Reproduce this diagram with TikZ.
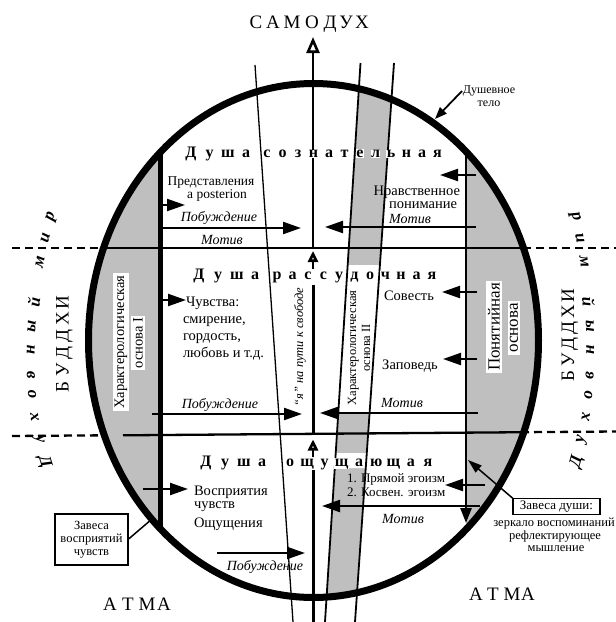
\documentclass[tikz,border=0pt]{standalone}
\usepackage{fontspec}
\setmainfont{Liberation Serif}
\usetikzlibrary{arrows.meta}
\definecolor{stip}{gray}{0.75}
\begin{document}
\begin{tikzpicture}[x=1pt,y=-1pt,
  every node/.style={inner sep=0pt, outer sep=0pt},
  tx/.style={font=\fontsize{14.5}{17}\selectfont},
  itx/.style={font=\itshape\fontsize{14}{16}\selectfont},
  smtx/.style={font=\fontsize{13}{13}\selectfont},
  hdr/.style={font=\bfseries\fontsize{16}{16}\selectfont, anchor=base, fill=white, inner sep=0.5pt},
  bigcap/.style={font=\fontsize{19}{19}\selectfont, anchor=base},
  dmir/.style={font=\bfseries\itshape\fontsize{17}{17}\selectfont, sloped},
  farrow/.style={line width=2.2pt, -{Triangle[length=18pt,width=12pt]}},
  oarrow/.style={line width=2.6pt, -{Triangle[open,length=11pt,width=10pt]}},
  thinln/.style={line width=1.3pt},
  bandln/.style={line width=1.8pt},
  dashln/.style={line width=2.3pt, dash pattern=on 8pt off 5pt},
  wbox/.style={fill=white, inner sep=2pt},
  framebox/.style={draw, line width=1.3pt}
]
\useasboundingbox (0,0) rectangle (616,622);

% ---------- grey regions and inner lines (clipped to the soul body) ----------
\begin{scope}
  \clip (313.5,340.5) ellipse [x radius=225pt, y radius=257pt];
  \fill[stip] (0,0) rectangle (160,622);
  \fill[stip] (466,0) rectangle (616,622);
  \fill[stip] (360.5,63) -- (394,63) -- (355,622) -- (325,622) -- cycle;
  \fill[white] (347.6,265) -- (379.9,265) -- (369.7,412) -- (338.3,412) -- cycle;
  \fill[white] (335.5,453) -- (366.9,453) -- (365.9,468) -- (334.7,468) -- cycle;
  \draw[line width=2.3pt] (80,248) -- (550,248);
  \draw[line width=2.3pt] (123,435.3) -- (550,432);
  \draw[line width=5pt] (160,140) -- (160,540);
  \coordinate (rvs) at (466,140);
  \coordinate (rve) at (466,523);
  \draw[line width=2.6pt, -{Triangle[length=15pt,width=11pt]}] (rvs) -- (rve);
\end{scope}

% ---------- slanted lines ----------
\draw[thinln] (255,65) -- (293,622);
\draw[bandln] (360.5,63) -- (325,622);
\draw[bandln] (394,63) -- (355,622);

% ---------- dashed world boundaries ----------
\draw[dashln] (12,248) -- (104,248);
\draw[dashln] (523,248) -- (616,248);
\draw[dashln] (12,436) -- (105,435.3);
\draw[dashln] (521,432.2) -- (616,431.5);

% ---------- central line of the I ----------
\coordinate (c0) at (313,248);
\coordinate (c1) at (313,37);
\draw[line width=2.6pt, -{Triangle[open,length=16pt,width=13pt]}] (c0) -- (c1);
\coordinate (c2) at (313,433);
\coordinate (c3) at (313,285);
\draw[line width=3pt] (c2) -- (c3);
\coordinate (c4) at (313,269);
\coordinate (c5) at (313,251);
\draw[oarrow] (c4) -- (c5);
\coordinate (c6) at (313,622);
\coordinate (c7) at (313,470);
\draw[line width=3pt] (c6) -- (c7);
\coordinate (c8) at (313,457);
\coordinate (c9) at (313,439.5);
\draw[oarrow] (c8) -- (c9);

% ---------- outline ----------
\draw[line width=7pt] (313.5,340.5) ellipse [x radius=225pt, y radius=257pt];

% ---------- arrows ----------
\coordinate (a1s) at (160,205); \coordinate (a1e) at (185,205);
\coordinate (a2s) at (160,228); \coordinate (a2e) at (301,228);
\coordinate (a3s) at (160,300); \coordinate (a3e) at (186,300);
\coordinate (a4s) at (152,414); \coordinate (a4e) at (302,414);
\coordinate (a5s) at (143,489); \coordinate (a5e) at (188,489);
\coordinate (a6s) at (217,553); \coordinate (a6e) at (305,553);
\coordinate (b1s) at (476,175); \coordinate (b1e) at (440,175);
\coordinate (b2s) at (476,227); \coordinate (b2e) at (325,227);
\coordinate (b3s) at (477,292); \coordinate (b3e) at (442,292);
\coordinate (b4s) at (477,359); \coordinate (b4e) at (443,359);
\coordinate (b5s) at (478,413); \coordinate (b5e) at (320,413);
\coordinate (b6s) at (485,485); \coordinate (b6e) at (445,485);
\coordinate (b7s) at (480,506); \coordinate (b7e) at (322,506);
\foreach \p in {a1,a2,a3,a4,a5,a6,b1,b2,b3,b4,b5,b6,b7} \draw[farrow] (\p s) -- (\p e);

% ---------- headers ----------
\foreach \c/\x [count=\i] in {С/256,А/273,М/292,О/312,Д/330,У/346,Х/362}
  \node[bigcap] (sd-\i) at (\x,28) {\c};
\foreach \c/\x [count=\i] in {А/110,Т/128,М/147,А/164}
  \node[bigcap] (al-\i) at (\x,610) {\c};
\foreach \c/\x [count=\i] in {А/476,Т/493,М/512,А/528}
  \node[bigcap] (ar-\i) at (\x,600) {\c};
\foreach \c/\y [count=\i] in {Б/387,У/370,Д/353,Д/336,Х/319,И/303}
  \node[bigcap, rotate=90] (bl-\i) at (68.5,\y) {\c};
\foreach \c/\y [count=\i] in {Б/376,У/360,Д/344,Д/328,Х/312,И/296}
  \node[bigcap, rotate=90] (br-\i) at (574,\y) {\c};

\foreach \c/\x [count=\i] in {Д/191,у/209.5,ш/228,а/246,с/267,о/282.5,з/298,н/313.5,а/329,т/344.5,е/360,л/375.5,ь/391,н/406.5,а/422,я/437.5}
  \node[hdr] (h1-\i) at (\x,157.5) {\c};
\foreach \c/\x [count=\i] in {Д/199,у/218,ш/237,а/255,р/277,а/292.5,с/308,с/323.5,у/339,д/354.5,о/370,ч/385.5,н/401,а/416.5,я/432}
  \node[hdr] (h2-\i) at (\x,279) {\c};
\foreach \c/\x [count=\i] in {Д/206,у/225,ш/244,а/262,о/290,щ/307.25,у/324.5,щ/341.75,а/359,ю/376.25,щ/393.5,а/410.75,я/428}
  \node[hdr] (h3-\i) at (\x,466) {\c};

% ---------- spiritual world (curved) ----------
\path (48,472) .. controls (22,405) and (26,285) .. (55,207.5)
  node[dmir,pos=.05] (dl1) {Д} node[dmir,pos=.145] (dl2) {у}
  node[dmir,pos=.237] (dl3) {х} node[dmir,pos=.32] (dl4) {о}
  node[dmir,pos=.39] (dl5) {в} node[dmir,pos=.478] (dl6) {н}
  node[dmir,pos=.56] (dl7) {ы} node[dmir,pos=.645] (dl8) {й}
  node[dmir,pos=.787] (dl9) {м} node[dmir,pos=.877] (dl10) {и}
  node[dmir,pos=.96] (dl11) {р};
\path (574,472) .. controls (596,405) and (596,285) .. (572,207.5)
  node[dmir,pos=.05] (dr1) {Д} node[dmir,pos=.145] (dr2) {у}
  node[dmir,pos=.237] (dr3) {х} node[dmir,pos=.32] (dr4) {о}
  node[dmir,pos=.39] (dr5) {в} node[dmir,pos=.478] (dr6) {н}
  node[dmir,pos=.56] (dr7) {ы} node[dmir,pos=.645] (dr8) {й}
  node[dmir,pos=.787] (dr9) {м} node[dmir,pos=.877] (dr10) {и}
  node[dmir,pos=.96] (dr11) {р};

% ---------- texts ----------
\node[font=\fontsize{13.5}{13.5}\selectfont, anchor=base] (pr1) at (211,185) {Представления};
\node[font=\fontsize{13.5}{13.5}\selectfont, anchor=base] (pr2) at (217,198.5) {a posterion};
\node[itx, anchor=base] (pb1) at (219,221) {Побуждение};
\node[itx, anchor=base] (mt1) at (222,244) {Мотив};
\node[font=\fontsize{14.5}{14.5}\selectfont, anchor=base east] (nr1) at (460,195) {Нравственное};
\node[font=\fontsize{14.5}{14.5}\selectfont, anchor=base east] (nr2) at (457,208) {понимание};
\node[itx, anchor=base] (mt2) at (410,223.5) {Мотив};

\node[tx, anchor=base west] (ch1) at (186,306) {Чувства:};
\node[tx, anchor=base west] (ch2) at (183,323) {смирение,};
\node[tx, anchor=base west] (ch3) at (183,340) {гордость,};
\node[tx, anchor=base west] (ch4) at (183,357) {любовь и т.д.};
\node[itx, anchor=base] (pb2) at (220,408) {Побуждение};
\node[tx, anchor=base] (sv) at (409,300) {Совесть};
\node[tx, anchor=base] (zp) at (410,369) {Заповедь};
\node[itx, anchor=base] (mt3) at (402,407) {Мотив};

\node[tx, anchor=base west] (vs1) at (194,495) {Восприятия};
\node[tx, anchor=base west] (vs2) at (194,508.5) {чувств};
\node[tx, anchor=base west] (vs3) at (194,527) {Ощущения};
\node[itx, anchor=base] (pb3) at (265,570) {Побуждение};
\node[smtx, anchor=base west] (eg1) at (347,482) {1. Прямой эгоизм};
\node[smtx, anchor=base west] (eg2) at (347,496) {2. Косвен. эгоизм};
\node[itx, anchor=base] (mt4) at (403,523) {Мотив};

\node[font=\itshape\fontsize{12.5}{12.5}\selectfont, rotate=90] (ya) at (300,347) {“я” на пути к свободе};
\node[font=\fontsize{12.5}{14}\selectfont, rotate=90, align=center] (ko2) at (359,348) {Характерологическая\\основа II};
\node[wbox, font=\fontsize{14.5}{14.5}\selectfont, rotate=90] (ko1a) at (121,342) {Характерологическая};
\node[wbox, font=\fontsize{14.5}{14.5}\selectfont, rotate=90] (ko1b) at (138,343) {основа I};
\node[wbox, font=\fontsize{17}{17}\selectfont, rotate=90] (pn1) at (494,327) {Понятийная};
\node[wbox, font=\fontsize{17}{17}\selectfont, rotate=90] (pn2) at (514,328) {основа};

% ---------- curtains ----------
\node[framebox, minimum width=73pt, minimum height=51pt, align=center, font=\fontsize{12.5}{13}\selectfont] (zv) at (91.5,539.5) {Завеса\\восприятий\\чувств};
\coordinate (zvt) at (152,519);
\draw[line width=1.5pt] (zv.east) -- (zvt);

\node[framebox, minimum width=87pt, minimum height=16pt, smtx] (zd) at (556.5,506.5) {Завеса души:};
\node[font=\fontsize{12.5}{12.5}\selectfont, anchor=base] (zd1) at (554,526) {зеркало воспоминаний};
\node[font=\fontsize{12.5}{12.5}\selectfont, anchor=base] (zd2) at (555,539) {рефлектирующее};
\node[font=\fontsize{12.5}{12.5}\selectfont, anchor=base] (zd3) at (556,551) {мышление};
\coordinate (zdt) at (468,460);
\draw[line width=1.5pt, -{Triangle[length=14pt,width=9pt]}] (zd.north west) -- (zdt);

\node[font=\fontsize{12}{12}\selectfont, anchor=base] (dt1) at (489,93) {Душевное};
\node[font=\fontsize{12}{12}\selectfont, anchor=base] (dt2) at (489,106) {тело};
\coordinate (dts) at (462,91);
\coordinate (dtt) at (435,119);
\draw[line width=1.8pt, -{Triangle[length=12pt,width=9pt]}] (dts) -- (dtt);
\end{tikzpicture}
\end{document}
